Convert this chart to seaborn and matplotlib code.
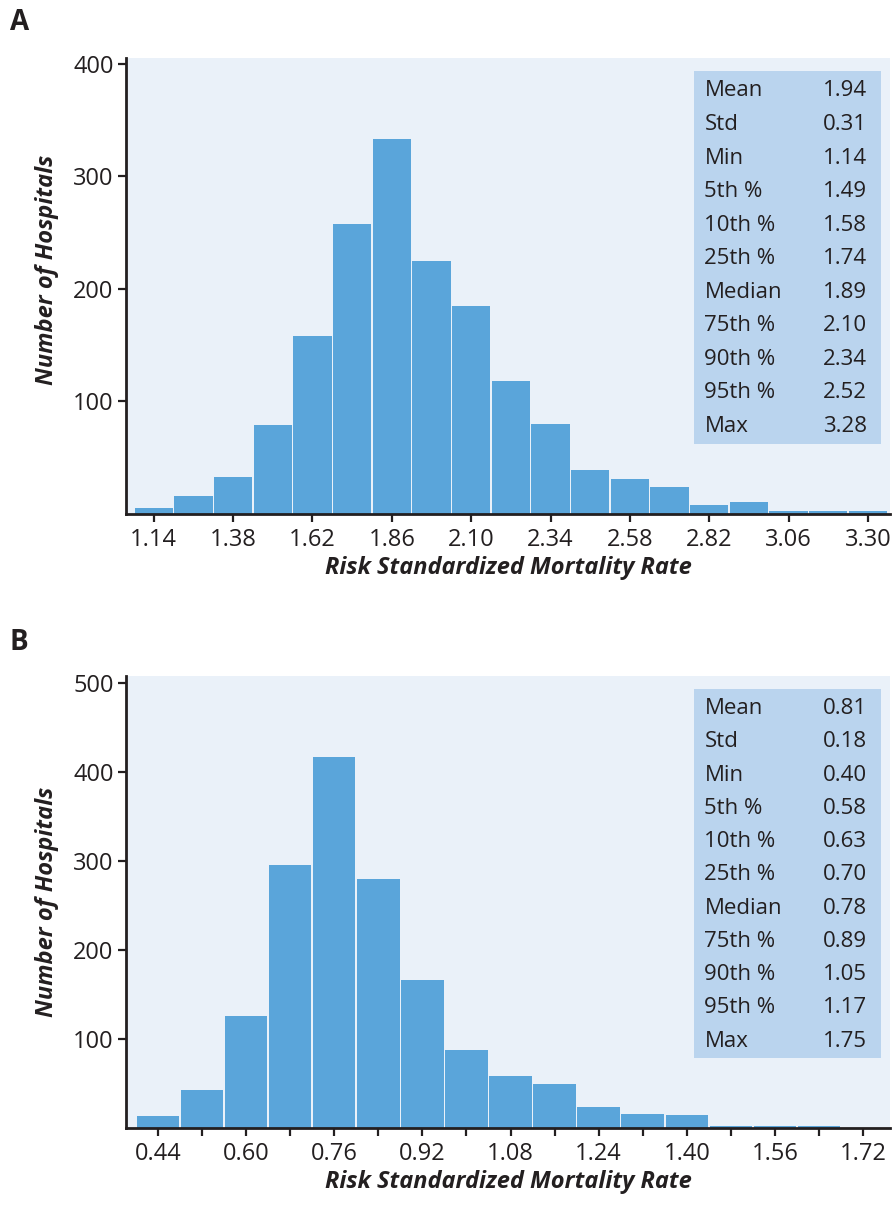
import numpy as np
import pandas as pd
import matplotlib
matplotlib.use("Agg")
import matplotlib.pyplot as plt
import seaborn as sns
from matplotlib.patches import Rectangle

# ---------------- data ----------------
a_centers = [1.14, 1.26, 1.38, 1.50, 1.62, 1.74, 1.86, 1.98, 2.10, 2.22,
             2.34, 2.46, 2.58, 2.70, 2.82, 2.94, 3.06, 3.18, 3.30]
a_counts = [5, 16, 33, 79, 158, 258, 333, 225, 185, 118,
            80, 39, 31, 24, 8, 11, 3, 3, 3]
a_binwidth = 0.12
a_ticks = [1.14, 1.38, 1.62, 1.86, 2.10, 2.34, 2.58, 2.82, 3.06, 3.30]
a_yticks = [100, 200, 300, 400]

b_centers = [0.44, 0.52, 0.60, 0.68, 0.76, 0.84, 0.92, 1.00, 1.08, 1.16,
             1.24, 1.32, 1.40, 1.48, 1.56, 1.64]
b_counts = [13, 43, 126, 296, 417, 280, 166, 88, 59, 49,
            24, 16, 15, 2, 2, 2]
b_binwidth = 0.08
b_ticks = [0.44, 0.52, 0.60, 0.68, 0.76, 0.84, 0.92, 1.00, 1.08, 1.16,
           1.24, 1.32, 1.40, 1.48, 1.56, 1.64, 1.72]
b_ticklabels = ["0.44", "", "0.60", "", "0.76", "", "0.92", "", "1.08", "",
                "1.24", "", "1.40", "", "1.56", "", "1.72"]
b_yticks = [100, 200, 300, 400, 500]

stat_names = ["Mean", "Std", "Min", "5th %", "10th %", "25th %", "Median",
              "75th %", "90th %", "95th %", "Max"]
a_stats = ["1.94", "0.31", "1.14", "1.49", "1.58", "1.74", "1.89", "2.10",
           "2.34", "2.52", "3.28"]
b_stats = ["0.81", "0.18", "0.40", "0.58", "0.63", "0.70", "0.78", "0.89",
           "1.05", "1.17", "1.75"]

# ---------------- style ----------------
sns.set_theme(style="ticks")
plt.rcParams["font.family"] = ["Open Sans", "DejaVu Sans"]
TXT = "#231F20"
BAR = "#5AA5DA"
BG = "#EAF1F9"
BOX = "#BAD4EE"

fig = plt.figure(figsize=(8.92, 12.05), dpi=100)
axA = fig.add_axes([0.1413, 0.5734, 0.8565, 0.3784])
axB = fig.add_axes([0.1413, 0.0639, 0.8565, 0.3751])


def panel(ax, centers, counts, bw, xlim, ylim, xticks, xticklabels, yticks,
          stats, letter, letter_y, ylab_y):
    df = pd.DataFrame({"x": centers, "n": counts})
    lo = round(centers[0] - bw / 2, 4)
    hi = round(centers[-1] + bw / 2, 4)
    sns.histplot(data=df, x="x", weights="n", binwidth=bw, binrange=(lo, hi),
                 shrink=0.963, ax=ax, color=BAR, alpha=1, linewidth=0)
    ax.set_facecolor(BG)
    ax.set_xlim(*xlim)
    ax.set_ylim(*ylim)
    ax.set_xticks(xticks)
    ax.set_xticklabels(xticklabels)
    ax.set_yticks(yticks)
    for s in ["top", "right"]:
        ax.spines[s].set_visible(False)
    for s in ["left", "bottom"]:
        ax.spines[s].set_linewidth(2.0)
        ax.spines[s].set_color(TXT)
    ax.tick_params(axis="both", direction="out", length=6, width=1.6,
                   color=TXT, labelsize=17, labelcolor=TXT)
    ax.tick_params(axis="x", pad=4)
    ax.tick_params(axis="y", pad=3)
    ax.set_xlabel("Risk Standardized Mortality Rate", fontsize=17,
                  fontweight="bold", fontstyle="italic", color=TXT, labelpad=3)
    ax.set_ylabel("Number of Hospitals", fontsize=17, fontweight="bold",
                  fontstyle="italic", color=TXT)
    ax.yaxis.set_label_coords(-0.088, ylab_y)
    ax.grid(False)

    # stats box
    bx0, bx1 = 0.743, 0.988
    by0, by1 = 0.154, 0.971
    ax.add_patch(Rectangle((bx0, by0), bx1 - bx0, by1 - by0,
                           transform=ax.transAxes, facecolor=BOX,
                           edgecolor="none", zorder=3))
    n = len(stat_names)
    top, bot = 0.928, 0.192
    for i, (nm, v) in enumerate(zip(stat_names, stats)):
        yy = top - (top - bot) * i / (n - 1)
        ax.text(0.757, yy, nm, transform=ax.transAxes, ha="left",
                va="center", fontsize=16, color=TXT, zorder=4)
        ax.text(0.970, yy, v, transform=ax.transAxes, ha="right",
                va="center", fontsize=16, color=TXT, zorder=4)

    fig.text(10 / 892, letter_y, letter, fontsize=20, fontweight="bold",
             color=TXT, ha="left", va="center")


panel(axA, a_centers, a_counts, a_binwidth, (1.056, 3.367), (0, 405),
      a_ticks, [f"{t:.2f}" for t in a_ticks], a_yticks, a_stats, "A",
      1 - 22 / 1205, 0.535)
panel(axB, b_centers, b_counts, b_binwidth, (0.382, 1.769), (0, 508),
      b_ticks, b_ticklabels, b_yticks, b_stats, "B", 1 - 643 / 1205, 0.5)

fig.savefig("out.png", dpi=100)
